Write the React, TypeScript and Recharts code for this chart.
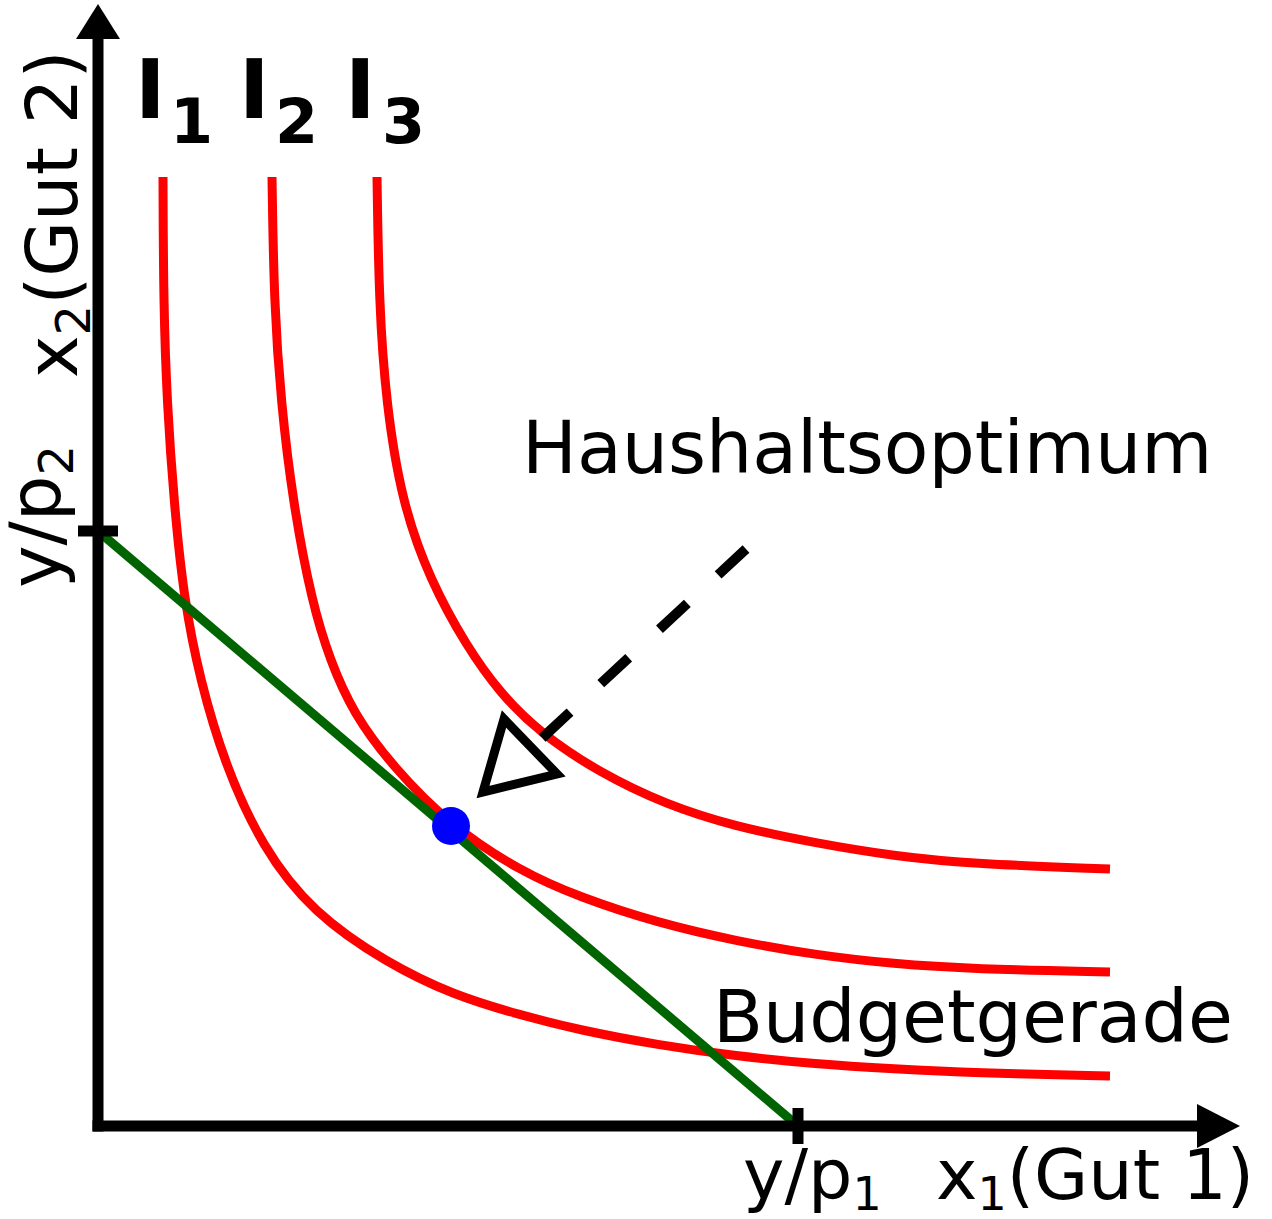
import { ComposedChart, Line, ReferenceDot, ReferenceLine, Scatter, XAxis, YAxis } from "recharts"

const W = 1272
const H = 1219
// data units: 1 unit = 100px, origin at the axes corner
const X_DOMAIN: [number, number] = [-0.98, 11.74]
const Y_DOMAIN: [number, number] = [-0.93, 11.26]

const RED = "#ff0000"
const GREEN = "#006400"
const BLUE = "#0000ff"
const FONT = "DejaVu Sans"

// indifference curves
const I1 = [
  { x: 0.65, y: 9.49 }, { x: 0.655, y: 8.23 }, { x: 0.69, y: 7.23 }, { x: 0.76, y: 6.23 },
  { x: 0.86, y: 5.26 }, { x: 1.02, y: 4.46 }, { x: 1.27, y: 3.61 }, { x: 1.64, y: 2.79 },
  { x: 2.15, y: 2.13 }, { x: 2.89, y: 1.63 }, { x: 3.55, y: 1.31 }, { x: 4.22, y: 1.11 },
  { x: 4.81, y: 0.96 }, { x: 5.6, y: 0.81 }, { x: 6.38, y: 0.7 }, { x: 7.17, y: 0.62 },
  { x: 7.96, y: 0.57 }, { x: 8.75, y: 0.53 }, { x: 10.12, y: 0.5 },
]
const I2 = [
  { x: 1.74, y: 9.49 }, { x: 1.76, y: 8.23 }, { x: 1.83, y: 7.23 }, { x: 1.95, y: 6.23 },
  { x: 2.14, y: 5.23 }, { x: 2.32, y: 4.66 }, { x: 2.55, y: 4.13 }, { x: 2.95, y: 3.59 },
  { x: 3.53, y: 3.0 }, { x: 4.22, y: 2.55 }, { x: 4.81, y: 2.29 }, { x: 5.6, y: 2.03 },
  { x: 6.38, y: 1.85 }, { x: 7.17, y: 1.71 }, { x: 7.96, y: 1.62 }, { x: 8.75, y: 1.57 },
  { x: 10.12, y: 1.54 },
]
const I3 = [
  { x: 2.79, y: 9.49 }, { x: 2.81, y: 8.23 }, { x: 2.88, y: 7.23 }, { x: 3.04, y: 6.23 },
  { x: 3.32, y: 5.46 }, { x: 3.69, y: 4.79 }, { x: 4.02, y: 4.33 }, { x: 4.42, y: 3.93 },
  { x: 5.02, y: 3.53 }, { x: 5.69, y: 3.21 }, { x: 6.35, y: 3.0 }, { x: 7.17, y: 2.83 },
  { x: 7.96, y: 2.7 }, { x: 8.75, y: 2.62 }, { x: 10.12, y: 2.57 },
]

// budget line intercepts: y/p1 on x, y/p2 on y
const X_INTERCEPT = 7.0
const Y_INTERCEPT = 5.95
const BUDGET = [
  { x: 0, y: Y_INTERCEPT },
  { x: X_INTERCEPT, y: 0 },
]
const OPTIMUM = { x: 3.53, y: 3.0 }

// axes
const X_AXIS_LINE = [
  { x: 0, y: 0 },
  { x: 10.95, y: 0 },
]
const Y_AXIS_LINE = [
  { x: 0, y: 0 },
  { x: 0, y: 10.82 },
]
const X_ARROW = [{ x: 11.42, y: 0 }]
const Y_ARROW = [{ x: 0, y: 11.22 }]

// pointer to the optimum
const POINTER = [
  { x: 6.48, y: 5.77 },
  { x: 4.42, y: 3.86 },
]
const POINTER_TIP = [{ x: 3.85, y: 3.34 }]

const rightArrow = (p: any) => (
  <polygon points={`${p.cx},${p.cy} ${p.cx - 43},${p.cy - 22} ${p.cx - 43},${p.cy + 22}`} fill="#000" />
)
const upArrow = (p: any) => (
  <polygon points={`${p.cx},${p.cy} ${p.cx - 22},${p.cy + 35} ${p.cx + 22},${p.cy + 35}`} fill="#000" />
)
const openHead = (p: any) => (
  <polygon
    points={`${p.cx},${p.cy} ${p.cx + 21},${p.cy - 73} ${p.cx + 74},${p.cy - 18}`}
    fill="none"
    stroke="#000"
    strokeWidth={9}
    strokeLinejoin="miter"
  />
)

export default function App() {
  const curves = [I1, I2, I3]
  return (
    <div style={{ position: "absolute", left: 0, top: 0, width: W, height: H, background: "#fff" }}>
      <ComposedChart width={W} height={H} margin={{ top: 0, right: 0, bottom: 0, left: 0 }}>
        <XAxis type="number" dataKey="x" domain={X_DOMAIN} allowDataOverflow hide height={0} />
        <YAxis type="number" dataKey="y" domain={Y_DOMAIN} allowDataOverflow hide width={0} />

        {curves.map((c, i) => (
          <Line
            key={i}
            data={c}
            dataKey="y"
            type="basis"
            stroke={RED}
            strokeWidth={9}
            dot={false}
            activeDot={false}
            isAnimationActive={false}
          />
        ))}

        <Line data={BUDGET} dataKey="y" type="linear" stroke={GREEN} strokeWidth={9} dot={false} activeDot={false} isAnimationActive={false} />

        <Line data={X_AXIS_LINE} dataKey="y" type="linear" stroke="#000" strokeWidth={11} strokeLinecap="square" dot={false} activeDot={false} isAnimationActive={false} />
        <Line data={Y_AXIS_LINE} dataKey="y" type="linear" stroke="#000" strokeWidth={11} strokeLinecap="square" dot={false} activeDot={false} isAnimationActive={false} />
        <Scatter data={X_ARROW} shape={rightArrow} isAnimationActive={false} />
        <Scatter data={Y_ARROW} shape={upArrow} isAnimationActive={false} />

        <ReferenceLine segment={[{ x: X_INTERCEPT, y: -0.18 }, { x: X_INTERCEPT, y: 0.18 }]} stroke="#000" strokeWidth={11} ifOverflow="visible" />
        <ReferenceLine segment={[{ x: -0.2, y: Y_INTERCEPT }, { x: 0.2, y: Y_INTERCEPT }]} stroke="#000" strokeWidth={11} ifOverflow="visible" />

        <Line
          data={POINTER}
          dataKey="y"
          type="linear"
          stroke="#000"
          strokeWidth={10}
          strokeDasharray="38 42"
          dot={false}
          activeDot={false}
          isAnimationActive={false}
        />
        <Scatter data={POINTER_TIP} shape={openHead} isAnimationActive={false} />

        <ReferenceDot x={OPTIMUM.x} y={OPTIMUM.y} r={19} fill={BLUE} stroke="none" ifOverflow="visible" />
      </ComposedChart>

      <svg
        width={W}
        height={H}
        style={{ position: "absolute", left: 0, top: 0, pointerEvents: "none" }}
        fontFamily={FONT}
      >
        <text x={135} y={118} fontSize={82} fontWeight="bold">I</text>
        <text x={170} y={143} fontSize={62} fontWeight="bold">1</text>
        <text x={239} y={118} fontSize={82} fontWeight="bold">I</text>
        <text x={275} y={143} fontSize={62} fontWeight="bold">2</text>
        <text x={345} y={118} fontSize={82} fontWeight="bold">I</text>
        <text x={382} y={143} fontSize={62} fontWeight="bold">3</text>

        <text x={522} y={473} fontSize={73}>Haushaltsoptimum</text>
        <text x={713} y={1042} fontSize={73}>Budgetgerade</text>

        <text x={743} y={1199} fontSize={70}>
          y/p<tspan fontSize={46} dy={11}>1</tspan>
        </text>
        <text x={936} y={1199} fontSize={70}>
          x<tspan fontSize={46} dy={11}>1</tspan>
          <tspan dy={-11}>(Gut 1)</tspan>
        </text>

        <text transform="translate(60,588) rotate(-90)" fontSize={72}>
          y/p<tspan fontSize={48} dy={13}>2</tspan>
        </text>
        <text transform="translate(77,378) rotate(-90)" fontSize={72}>
          x<tspan fontSize={48} dy={13}>2</tspan>
          <tspan dy={-13}>(Gut 2)</tspan>
        </text>
      </svg>
    </div>
  )
}
